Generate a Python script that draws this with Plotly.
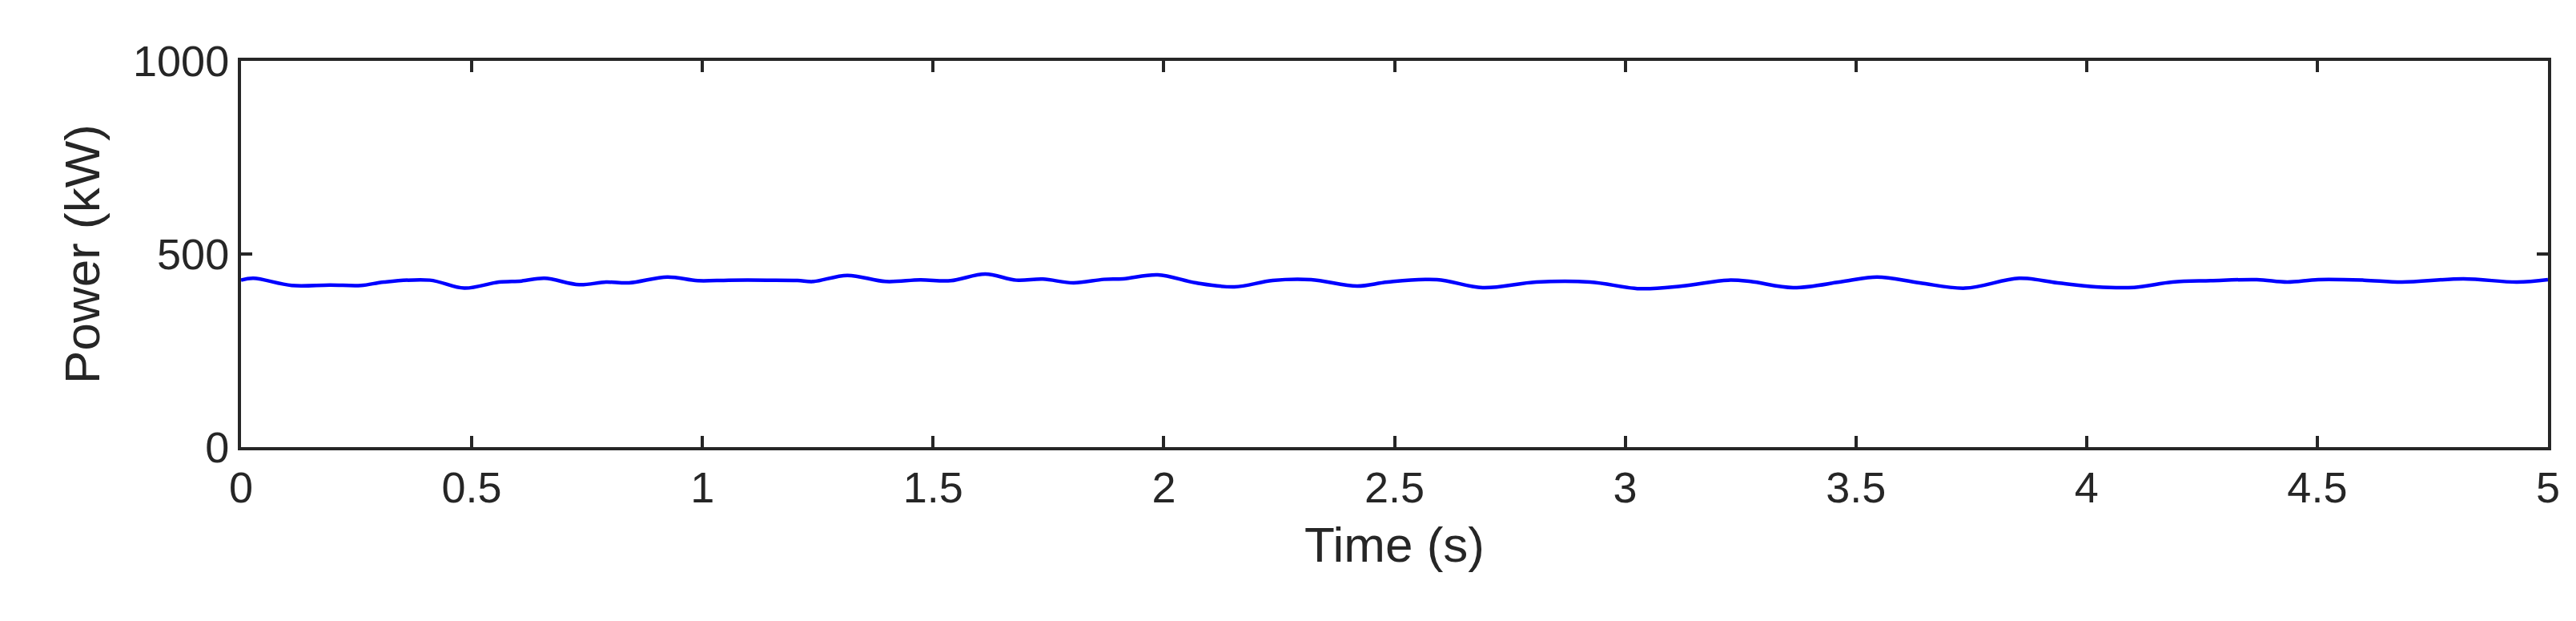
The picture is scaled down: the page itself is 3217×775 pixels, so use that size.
import plotly.graph_objects as go

time_s = [0.0, 0.027, 0.110, 0.193, 0.260, 0.310, 0.409, 0.484, 0.559, 0.608, 0.658, 0.733, 0.791, 0.841,
          0.924, 0.990, 1.057, 1.140, 1.206, 1.240, 1.314, 1.397, 1.472, 1.538, 1.613, 1.680, 1.738, 1.804,
          1.870, 1.912, 1.987, 2.070, 2.153, 2.236, 2.319, 2.419, 2.485, 2.592, 2.691, 2.807, 2.924, 3.032,
          3.123, 3.223, 3.272, 3.364, 3.472, 3.546, 3.638, 3.737, 3.854, 3.937, 4.020, 4.103, 4.186, 4.269,
          4.369, 4.435, 4.502, 4.601, 4.684, 4.817, 4.933, 5.0]
power_kw = [432.3, 437.1, 418.5, 419.8, 418.5, 427.4, 432.3, 411.6, 427.4, 430.2, 437.1, 420.5, 427.4, 425.3,
            440.5, 430.9, 432.3, 432.3, 431.6, 428.8, 444.7, 428.8, 433.0, 430.9, 448.1, 432.3, 435.0, 425.3,
            434.4, 435.7, 446.0, 425.3, 415.0, 431.6, 433.7, 417.1, 427.4, 433.7, 412.9, 427.4, 427.4, 410.2,
            417.1, 432.3, 428.8, 412.9, 428.8, 440.5, 425.3, 411.6, 437.1, 425.3, 415.0, 413.6, 427.4, 430.9,
            433.7, 427.4, 433.7, 432.3, 427.4, 435.7, 427.4, 433.7]

x_ticks = [0, 0.5, 1, 1.5, 2, 2.5, 3, 3.5, 4, 4.5, 5]
x_tick_text = ["0", "0.5", "1", "1.5", "2", "2.5", "3", "3.5", "4", "4.5", "5"]
y_ticks = [0, 500, 1000]

fig = go.Figure(go.Scatter(x=time_s, y=power_kw, mode="lines",
                           line=dict(color="#0000ff", width=4.5, shape="spline", smoothing=1.0)))

axis_common = dict(showline=True, linecolor="#262626", linewidth=4, mirror="ticks", ticks="inside",
                   ticklen=14, tickwidth=4, tickcolor="#262626", showgrid=False, zeroline=False,
                   tickfont=dict(size=54, color="#262626", family="Liberation Sans, Arial, sans-serif"))
fig.update_xaxes(range=[0, 5], tickvals=x_ticks, ticktext=x_tick_text,
                 title=dict(text="Time (s)", font=dict(size=62, color="#262626"), standoff=22), **axis_common)
fig.update_yaxes(range=[0, 1000], tickvals=y_ticks,
                 title=dict(text="Power (kW)", font=dict(size=62, color="#262626"), standoff=22), **axis_common)
fig.update_layout(width=3217, height=775, margin=dict(l=293, r=43, t=68, b=225),
                  plot_bgcolor="white", paper_bgcolor="white", showlegend=False,
                  font=dict(family="Liberation Sans, Arial, sans-serif", color="#262626"))
fig.write_html("out.html")
